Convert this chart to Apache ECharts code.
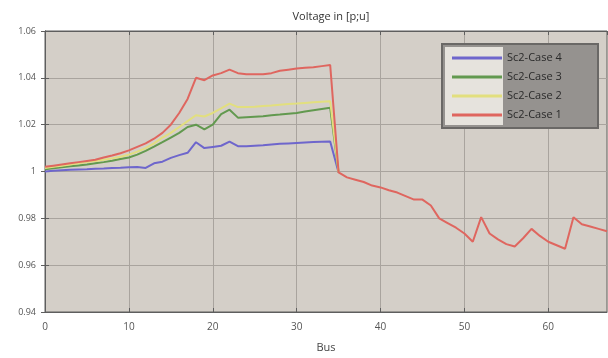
<!DOCTYPE html>
<html>
<head>
<meta charset="utf-8">
<script src="https://cdn.jsdelivr.net/npm/echarts@6/dist/echarts.min.js"></script>
<style>
  html, body { margin: 0; padding: 0; background: #fff; }
  #chart { width: 608px; height: 358px; }
</style>
</head>
<body>
<div id="chart"></div>
<script>
// bus index 0..67
const buses = Array.from({ length: 68 }, (_, i) => i)

// buses 0..35
const case4 = [1.000, 1.0003, 1.0005, 1.0007, 1.0009, 1.001, 1.0012, 1.0013, 1.0015, 1.0016, 1.0018,
  1.0019, 1.0015, 1.0035, 1.0042, 1.0058, 1.007, 1.008, 1.0125, 1.010, 1.0105, 1.011, 1.0128, 1.0108,
  1.0108, 1.011, 1.0112, 1.0115, 1.0118, 1.012, 1.0122, 1.0124, 1.0126, 1.0127, 1.0128, 0.9996]
const case3 = [1.001, 1.0014, 1.0018, 1.0022, 1.0026, 1.003, 1.0035, 1.004, 1.0046, 1.0053, 1.006,
  1.0072, 1.0088, 1.0106, 1.0125, 1.0145, 1.0165, 1.019, 1.020, 1.018, 1.020, 1.0245, 1.0264, 1.023,
  1.0232, 1.0234, 1.0236, 1.024, 1.0243, 1.0247, 1.025, 1.0256, 1.0262, 1.0267, 1.0272, 0.9996]
const case2 = [1.0015, 1.002, 1.0025, 1.003, 1.0035, 1.004, 1.0045, 1.005, 1.0056, 1.0063, 1.0072,
  1.0085, 1.010, 1.012, 1.0145, 1.0165, 1.019, 1.0215, 1.024, 1.0235, 1.025, 1.027, 1.029, 1.0275,
  1.0275, 1.0277, 1.028, 1.0282, 1.0285, 1.0288, 1.029, 1.0293, 1.0296, 1.0298, 1.030, 0.9996]
// case 1 runs over every bus
const case1 = [1.002, 1.0025, 1.003, 1.0035, 1.004, 1.0045, 1.005, 1.006, 1.0068, 1.0078, 1.009,
  1.0105, 1.012, 1.014, 1.0165, 1.020, 1.025, 1.031, 1.040, 1.039, 1.041, 1.042, 1.0435, 1.042,
  1.0415, 1.0415, 1.0415, 1.042, 1.043, 1.0435, 1.044, 1.0443, 1.0445, 1.045, 1.0455, 0.9996,
  0.9975, 0.9965, 0.9955, 0.994, 0.9932, 0.992, 0.991, 0.9895, 0.988, 0.988, 0.9855, 0.980, 0.978,
  0.976, 0.9735, 0.970, 0.9805, 0.9735, 0.971, 0.969, 0.968, 0.9715, 0.9755, 0.9725, 0.970, 0.9685,
  0.967, 0.9805, 0.9775, 0.9765, 0.9755, 0.9745]

const seriesNames = ['Sc2-Case 4', 'Sc2-Case 3', 'Sc2-Case 2', 'Sc2-Case 1']
const seriesColors = ['#6e66cc', '#62994f', '#e2df7e', '#df665f']
const yTicks = [0.94, 0.96, 0.98, 1, 1.02, 1.04, 1.06]

const chart = echarts.init(document.getElementById('chart'))

function pairs(values) {
  return values.map((v, i) => [buses[i], v])
}

const labelFont = { color: '#555', fontSize: 10, fontFamily: 'Open Sans' }
const frame = { lineStyle: { color: '#5e5e5e' } }

const option = {
  animation: false,
  title: {
    text: 'Voltage in [p;u]',
    left: 326,
    textAlign: 'center',
    top: 6,
    textStyle: { color: '#333', fontSize: 11, fontWeight: 'normal', fontFamily: 'Open Sans' },
  },
  grid: {
    left: 45, right: 1, top: 31, bottom: 45,
    show: true, backgroundColor: '#d4cfc8', borderColor: '#5e5e5e', borderWidth: 1,
  },
  // legend box: light strip behind the samples, grey behind the names
  graphic: [
    { type: 'rect', z: 3, shape: { x: 442, y: 44, width: 156, height: 84 },
      style: { fill: '#95928f', stroke: '#6a6866', lineWidth: 2 } },
    { type: 'rect', z: 3, shape: { x: 445, y: 47, width: 58, height: 78 },
      style: { fill: '#e6e3dd' } },
  ],
  legend: {
    data: seriesNames,
    orient: 'vertical',
    left: 442, top: 44,
    padding: [7, 10, 7, 10],
    itemGap: 5,
    itemWidth: 50, itemHeight: 3,
    icon: 'rect',
    z: 5,
    textStyle: { color: '#2a2a2a', fontSize: 11, lineHeight: 14, fontFamily: 'Open Sans' },
  },
  xAxis: [
    {
      type: 'value', min: 0, max: 67, interval: 10,
      name: 'Bus', nameLocation: 'middle', nameGap: 30,
      nameTextStyle: { color: '#444', fontSize: 11, fontFamily: 'Open Sans' },
      axisLine: frame,
      axisTick: { inside: true, length: 4, ...frame },
      axisLabel: { ...labelFont, margin: 10, showMaxLabel: false },
      splitLine: { show: true, lineStyle: { color: '#a9a49e', width: 1 } },
    },
    {
      type: 'value', position: 'top', min: 0, max: 67, interval: 10,
      axisLine: frame,
      axisTick: { inside: true, length: 4, ...frame },
      axisLabel: { show: false },
      splitLine: { show: false },
    },
  ],
  yAxis: [
    {
      type: 'value', min: yTicks[0], max: yTicks[yTicks.length - 1], interval: 0.02,
      axisLine: { show: true, ...frame },
      axisTick: { show: true, inside: true, length: 4, ...frame },
      axisLabel: { ...labelFont, fontSize: 9, margin: 9, formatter: v => String(+v.toFixed(2)) },
      splitLine: { show: true, lineStyle: { color: '#a9a49e', width: 1 } },
    },
    {
      type: 'value', position: 'right', min: yTicks[0], max: yTicks[yTicks.length - 1], interval: 0.02,
      axisLine: { show: true, ...frame },
      axisTick: { show: true, inside: true, length: 4, ...frame },
      axisLabel: { show: false },
      splitLine: { show: false },
    },
  ],
  series: [case4, case3, case2, case1].map((values, i) => ({
    name: seriesNames[i],
    type: 'line',
    data: pairs(values),
    showSymbol: false,
    symbol: 'none',
    color: seriesColors[i],
    lineStyle: { width: 2, color: seriesColors[i] },
  })),
}

chart.setOption(option)
</script>
</body>
</html>
